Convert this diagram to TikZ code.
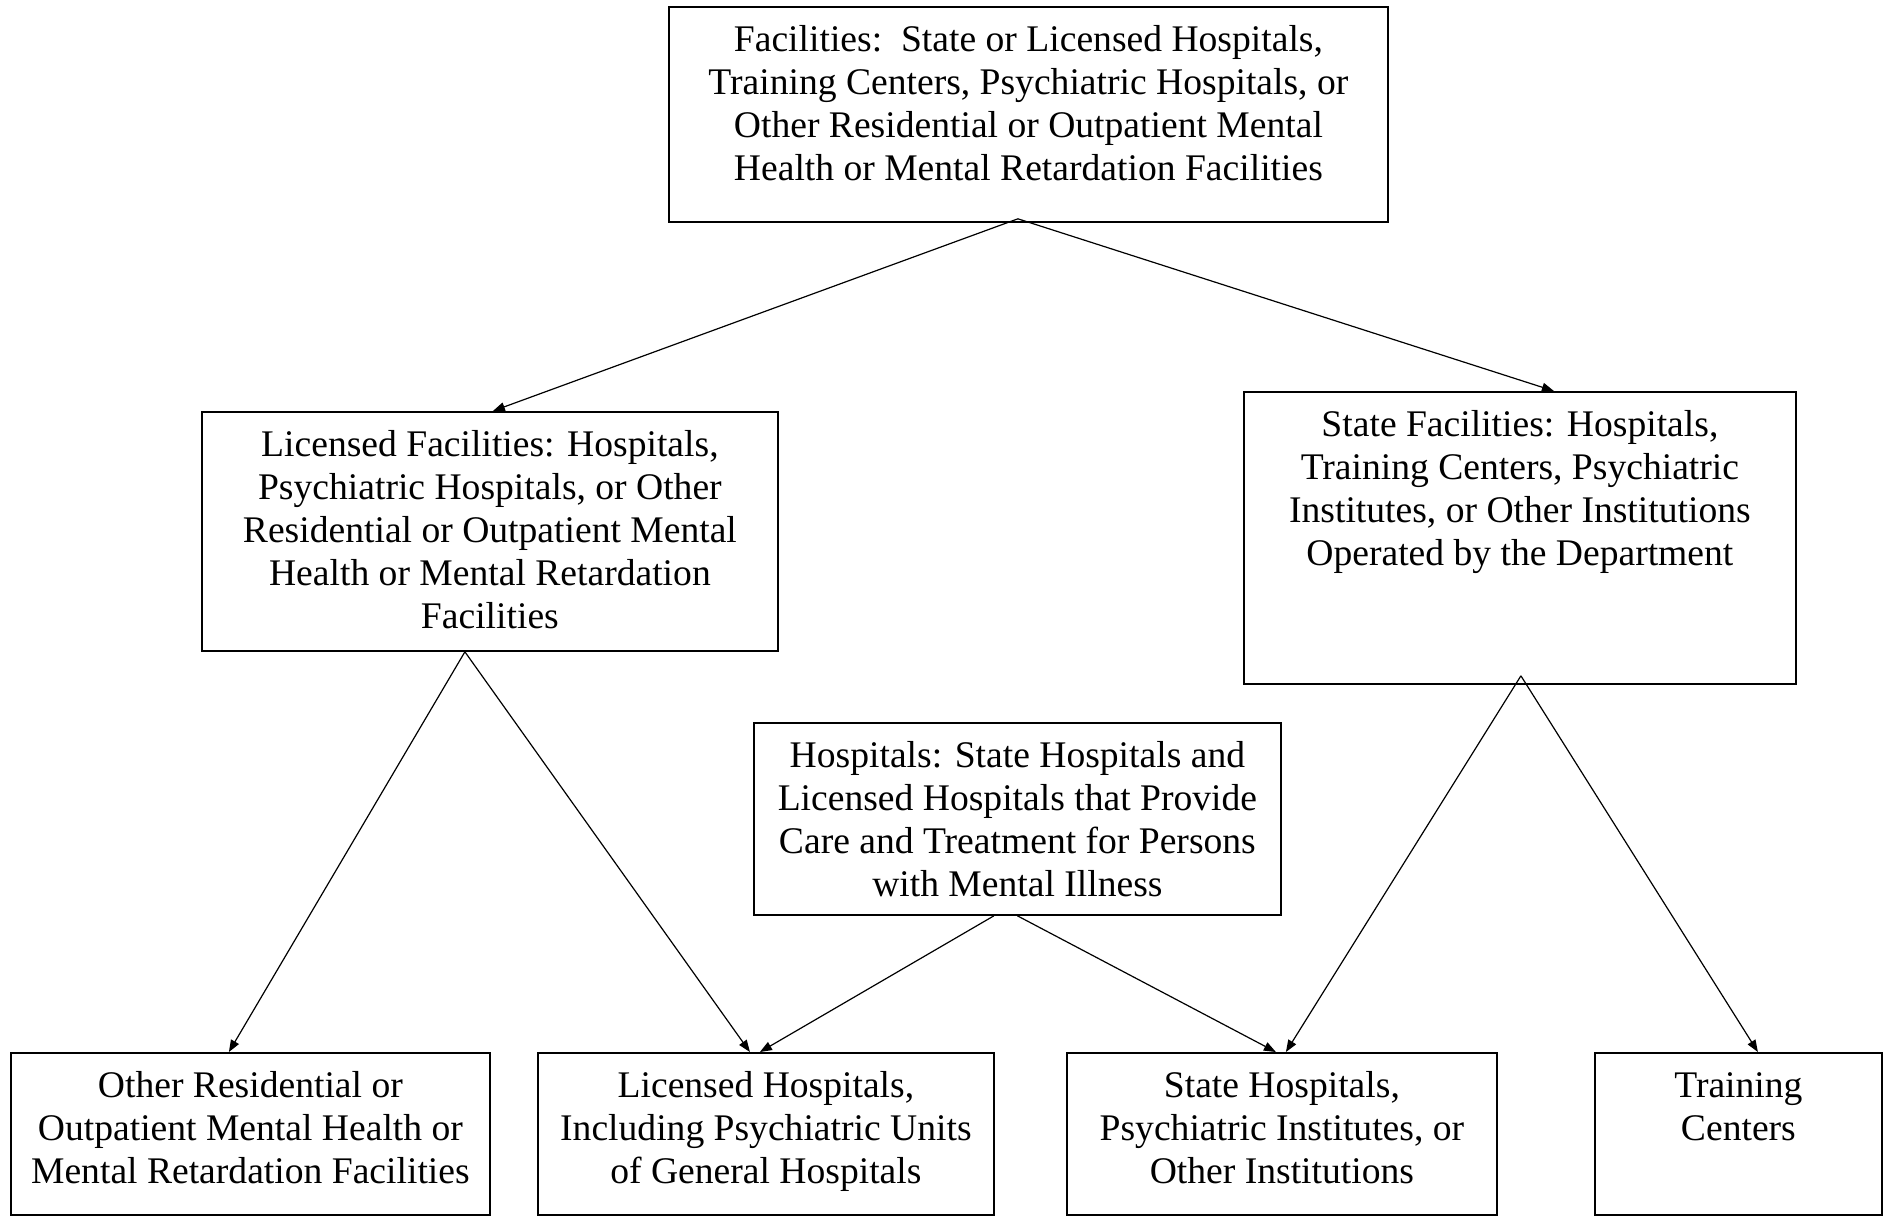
\documentclass[tikz,border=0pt]{standalone}
\usepackage{fontspec}
\setmainfont{Liberation Serif}
\usetikzlibrary{arrows.meta}

\begin{document}
\begin{tikzpicture}[x=0.5pt, y=-0.5pt, >={Triangle[length=6pt, width=4.5pt]},
  facbox/.style 2 args={draw, line width=0.9pt, inner sep=0pt, anchor=north west,
    font=\fontsize{18.8pt}{21.5pt}\selectfont,
    execute at begin node={\begin{minipage}[t][#2][t]{#1}\centering\rule{0pt}{22.3pt}},
    execute at end node={\end{minipage}}},
  link/.style={->, line width=0.6pt}]
  \useasboundingbox (0,0) rectangle (1883,1217);
  % upper levels
  \node[facbox={359.5pt}{107.5pt}] (fac) at (668,6)
    {Facilities:\ \ State or Licensed Hospitals,\\ Training Centers, Psychiatric Hospitals, or\\
     Other Residential or Outpatient Mental\\ Health or Mental Retardation Facilities};
  \node[facbox={288pt}{119.5pt}] (lic) at (201,411)
    {Licensed Facilities: Hospitals,\\ Psychiatric Hospitals, or Other\\
     Residential or Outpatient Mental\\ Health or Mental Retardation\\ Facilities};
  \node[facbox={276pt}{146pt}] (state) at (1243,391)
    {State Facilities: Hospitals,\\ Training Centers, Psychiatric\\
     Institutes, or Other Institutions\\ Operated by the Department};
  \node[facbox={263.5pt}{96pt}] (hosp) at (753,722)
    {Hospitals: State Hospitals and\\ Licensed Hospitals that Provide\\
     Care and Treatment for Persons\\ with Mental Illness};
  % bottom row
  \node[facbox={239.5pt}{81pt}] (other) at (10,1052)
    {Other Residential or\\ Outpatient Mental Health or\\ Mental Retardation Facilities};
  \node[facbox={228pt}{81pt}] (lichosp) at (537,1052)
    {Licensed Hospitals,\\ Including Psychiatric Units\\ of General Hospitals};
  \node[facbox={215pt}{81pt}] (statehosp) at (1066,1052)
    {State Hospitals,\\ Psychiatric Institutes, or\\ Other Institutions};
  \node[facbox={143.5pt}{81pt}] (train) at (1594,1052)
    {Training\\ Centers};
  % connectors
  \draw[link] ([xshift=-5.25pt, yshift=2pt]fac.south) -- ([xshift=1.5pt]lic.north);
  \draw[link] ([xshift=-5.25pt, yshift=2pt]fac.south) -- ([xshift=17pt]state.north);
  \draw[link] ([xshift=-12.5pt]lic.south) -- ([xshift=-10.75pt]other.north);
  \draw[link] ([xshift=-12.5pt]lic.south) -- ([xshift=-8pt]lichosp.north);
  \draw[link] ([xshift=-11.75pt]hosp.south) -- ([xshift=-3pt]lichosp.north);
  \draw[link] (hosp.south) -- ([xshift=-3pt]statehosp.north);
  \draw[link] ([xshift=0.5pt, yshift=4.5pt]state.south) -- ([xshift=2pt]statehosp.north);
  \draw[link] ([xshift=0.5pt, yshift=4.5pt]state.south) -- ([xshift=9.75pt]train.north);
\end{tikzpicture}
\end{document}
